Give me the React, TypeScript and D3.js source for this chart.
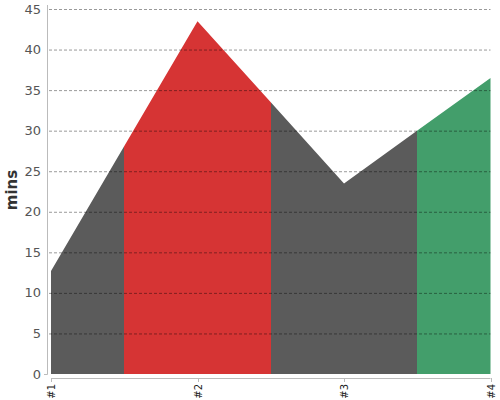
import React from "react";
import * as d3 from "d3";

const categories = ["#1", "#2", "#3", "#4"];
const values = [12.7, 43.5, 23.5, 36.5];
const zoneColors = ["#5b5b5b", "#d63434", "#5b5b5b", "#439e6b"];
const yTicks = [0, 5, 10, 15, 20, 25, 30, 35, 40, 45];

export default function App() {
  const W = 500, H = 400;
  const left = 51, right = 490.5, top = 9, bottom = 374;
  const x = d3.scalePoint<string>().domain(categories).range([left, right]);
  const y = d3.scaleLinear().domain([0, 45]).range([bottom, top]);
  const data = categories.map((c, i) => ({ c, v: values[i] }));
  const area = d3
    .area<{ c: string; v: number }>()
    .x((d) => x(d.c) as number)
    .y0(y(0))
    .y1((d) => y(d.v));
  const path = area(data) || "";
  const step = x.step();
  const zones = categories.map((c, i) => {
    const cx = x(c) as number;
    const x0 = i === 0 ? 0 : Math.round(cx - step / 2);
    const x1 = i === categories.length - 1 ? W : Math.round(cx + step / 2);
    return { x0, x1, color: zoneColors[i] };
  });
  return (
    <svg
      width={W}
      height={H}
      style={{ position: "absolute", left: 0, top: 0, fontFamily: "DejaVu Sans, sans-serif" }}
    >
      <defs>
        {zones.map((z, i) => (
          <clipPath id={`zone${i}`} key={i}>
            <rect x={z.x0} y={0} width={z.x1 - z.x0} height={H} />
          </clipPath>
        ))}
      </defs>
      {zones.map((z, i) => (
        <path key={i} d={path} fill={z.color} clipPath={`url(#zone${i})`} />
      ))}
      {yTicks.map((t) => (
        <g key={t}>
          {t > 0 && (
            <line
              x1={49}
              x2={right}
              y1={y(t) + 0.5}
              y2={y(t) + 0.5}
              stroke="rgba(0,0,0,0.4)"
              strokeWidth={1}
              strokeDasharray="3,2"
            />
          )}
          <text
            x={41}
            y={y(t)}
            dy="0.35em"
            textAnchor="end"
            fontSize={13}
            fill="#555"
          >
            {t}
          </text>
        </g>
      ))}
      <path d={`M47.5,5V374.5H44`} fill="none" stroke="#bbb" strokeWidth={1} />
      <line x1={left} x2={right} y1={378.5} y2={378.5} stroke="#bbb" strokeWidth={1} />
      {categories.map((c) => {
        const cx = Math.round(x(c) as number) + 0.5;
        return (
          <g key={c}>
            <line x1={cx} x2={cx} y1={378} y2={382} stroke="#bbb" />
            <text
              transform={`translate(${cx + 3.5},384) rotate(-90)`}
              textAnchor="end"
              fontSize={10}
              fill="#222"
            >
              {c}
            </text>
          </g>
        );
      })}
      <text
        transform={`translate(17,190) rotate(-90)`}
        textAnchor="middle"
        fontSize={15}
        fontWeight="bold"
        fill="#333"
      >
        mins
      </text>
    </svg>
  );
}
